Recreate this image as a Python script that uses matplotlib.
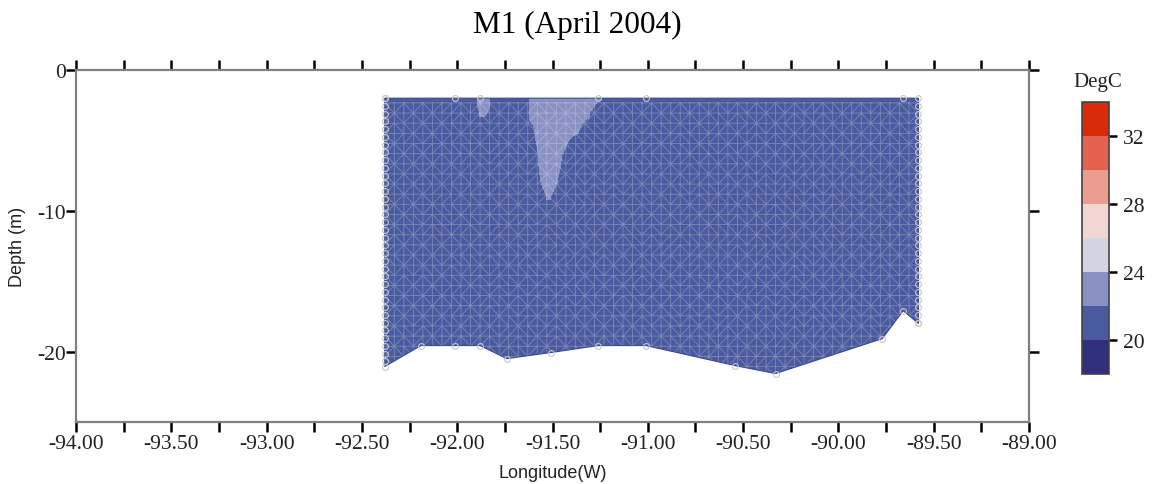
import numpy as np
import matplotlib
matplotlib.use("Agg")
import matplotlib.pyplot as plt
import matplotlib.tri as mtri
from matplotlib.patches import Polygon
from matplotlib.colors import ListedColormap, BoundaryNorm
from matplotlib.ticker import FixedLocator, FuncFormatter, NullLocator
import matplotlib.colorbar as mcolorbar

plt.rcParams['axes.unicode_minus'] = False

# ---------------- data ----------------
title = "M1 (April 2004)"
xlabel = "Longitude(W)"
ylabel = "Depth (m)"
cbar_title = "DegC"

# section outline (stations and bottom depth)
station_lon = [-92.38, -92.19, -92.01, -91.88, -91.74, -91.51, -91.26, -91.01,
               -90.54, -90.33, -89.77, -89.66, -89.58]
station_bottom = [-21.06, -19.57, -19.57, -19.57, -20.5, -20.07, -19.57, -19.57,
                  -21.0, -21.56, -19.08, -17.1, -18.0]
top_depth = -2.0
top_circle_lon = [-92.38, -92.01, -91.88, -91.26, -91.01, -89.66]

# temperature field samples
grid_lon = [-92.38, -92.19, -92.01, -91.93, -91.86, -91.80, -91.74, -91.66, -91.58,
            -91.52, -91.46, -91.40, -91.33, -91.26, -91.18, -91.01, -90.54, -90.33,
            -89.77, -89.66, -89.58]
grid_depth = [-2, -3, -4, -5, -6, -7, -8, -9, -10, -14, -18, -22]
base_T = 21.0
# (depth, lon, temperature) where different from base
warm_samples = [
    (-2, -91.86, 23.0), (-2, -91.58, 23.0), (-2, -91.52, 23.0), (-2, -91.46, 23.0),
    (-2, -91.40, 23.0), (-2, -91.33, 23.0), (-2, -91.26, 22.2),
    (-3, -91.86, 22.5), (-3, -91.58, 23.0), (-3, -91.52, 23.0), (-3, -91.46, 23.0),
    (-3, -91.40, 23.0), (-3, -91.33, 22.6),
    (-4, -91.58, 22.3), (-4, -91.52, 23.0), (-4, -91.46, 23.0), (-4, -91.40, 23.0),
    (-4, -91.33, 21.5),
    (-5, -91.58, 22.1), (-5, -91.52, 23.0), (-5, -91.46, 23.0), (-5, -91.40, 21.6),
    (-6, -91.58, 21.9), (-6, -91.52, 23.0), (-6, -91.46, 22.2),
    (-7, -91.58, 21.8), (-7, -91.52, 23.0), (-7, -91.46, 22.0),
    (-8, -91.58, 21.6), (-8, -91.52, 22.8), (-8, -91.46, 21.7),
    (-9, -91.52, 22.2),
]

levels = [18, 20, 22, 24, 26, 28, 30, 32, 34]
level_colors = ['#2f2f7e', '#4a5a9e', '#8990c2', '#d3d6e2',
                '#f2d6d2', '#eb9d90', '#e2614f', '#d92a0a']
cbar_ticks = [20, 24, 28, 32]

xmin, xmax = -94.0, -89.0
ymin, ymax = -25.0, 0.0
xticks = [-94.0, -93.75, -93.5, -93.25, -93.0, -92.75, -92.5, -92.25, -92.0, -91.75,
          -91.5, -91.25, -91.0, -90.75, -90.5, -90.25, -90.0, -89.75, -89.5, -89.25, -89.0]
yticks = [0, -10, -20]

# ---------------- figure ----------------
serif = ['Liberation Serif', 'DejaVu Serif']
sans = ['Liberation Sans', 'DejaVu Sans']

fig = plt.figure(figsize=(11.54, 4.85), dpi=100)
ax = fig.add_axes([76/1154, 62/485, 953/1154, 352/485])

# field
LON, DEP = np.meshgrid(grid_lon, grid_depth)
T = np.full(LON.shape, base_T)
for d, lo, t in warm_samples:
    T[grid_depth.index(d), grid_lon.index(lo)] = t
tri = mtri.Triangulation(LON.ravel(), DEP.ravel())
cmap = ListedColormap(level_colors)
norm = BoundaryNorm(levels, cmap.N)
cf = ax.tricontourf(tri, T.ravel(), levels=levels, cmap=cmap, norm=norm)

# clip polygon
poly_pts = [(station_lon[0], top_depth), (station_lon[-1], top_depth)]
poly_pts += list(zip(station_lon[::-1], station_bottom[::-1]))
poly = Polygon(poly_pts, closed=True, facecolor='none', edgecolor='#3a4b8e',
               linewidth=0.8, zorder=3)
ax.add_patch(poly)
cf.set_clip_path(poly)

# mesh overlay (gridding texture)
mx = np.arange(station_lon[0], station_lon[-1] + 1e-6, 0.05)
my = np.arange(-22.5, top_depth + 1e-6, 0.72)[::-1]
MX, MY = np.meshgrid(mx, my)
mtr = mtri.Triangulation(MX.ravel(), MY.ravel())
lines = ax.triplot(mtr, color='white', alpha=0.28, linewidth=0.6, zorder=2)
for ln in lines:
    ln.set_clip_path(poly)

# data point circles
circ_kw = dict(marker='o', markersize=4.2, markerfacecolor='none',
               markeredgecolor='#c8c8c8', markeredgewidth=0.8, linestyle='none', zorder=4)
left_d = np.arange(top_depth, station_bottom[0], -0.55)
right_d = np.arange(top_depth, station_bottom[-1], -0.55)
ax.plot([station_lon[0]] * len(left_d), left_d, **circ_kw)
ax.plot([station_lon[-1]] * len(right_d), right_d, **circ_kw)
ax.plot(top_circle_lon, [top_depth] * len(top_circle_lon), **circ_kw)
ax.plot(station_lon, station_bottom, **circ_kw)

ax.set_xlim(xmin, xmax)
ax.set_ylim(ymin, ymax)

for s in ax.spines.values():
    s.set_color('#808080')
    s.set_linewidth(1.6)

ax.xaxis.set_major_locator(FixedLocator(xticks))
ax.xaxis.set_major_formatter(FuncFormatter(
    lambda v, p: f"{v:.2f}" if abs(v * 2 - round(v * 2)) < 1e-6 else ""))
ax.yaxis.set_major_locator(FixedLocator(yticks))
ax.yaxis.set_major_formatter(FuncFormatter(lambda v, p: f"{v:.0f}"))
ax.tick_params(axis='both', direction='out', length=7, width=1.8, color='black',
               top=True, right=True, labeltop=False, labelright=False)
ax.tick_params(axis='x', pad=1.5)
ax.tick_params(axis='y', pad=0.5)
for lab in ax.get_xticklabels() + ax.get_yticklabels():
    lab.set_family(serif)
    lab.set_fontsize(15.5)
    lab.set_color('#222222')

ax.set_xlabel(xlabel, family=sans, fontsize=13, color='#222222', labelpad=8)
ax.set_ylabel(ylabel, family=sans, fontsize=13, color='#222222', labelpad=8)
fig.text(577/1154, 1 - 25/485, title, family=serif, fontsize=22.5,
         ha='center', va='center', color='black')

# colorbar
cax = fig.add_axes([1082/1154, 110/485, 27/1154, 272/485])
cb = mcolorbar.ColorbarBase(cax, cmap=cmap, norm=norm, boundaries=levels,
                            ticks=cbar_ticks, orientation='vertical')
cax.yaxis.set_minor_locator(NullLocator())
cb.outline.set_edgecolor('#444444')
cb.outline.set_linewidth(1.2)
cax.tick_params(which='major', direction='out', length=6, width=1.8, color='black', pad=4)
cax.tick_params(which='minor', length=0)
for lab in cax.get_yticklabels():
    lab.set_family(serif)
    lab.set_fontsize(15.5)
    lab.set_color('#222222')
fig.text(1098/1154, 1 - 82/485, cbar_title, family=serif, fontsize=15,
         ha='center', va='center', color='#222222')

fig.savefig('out.png', dpi=100)
